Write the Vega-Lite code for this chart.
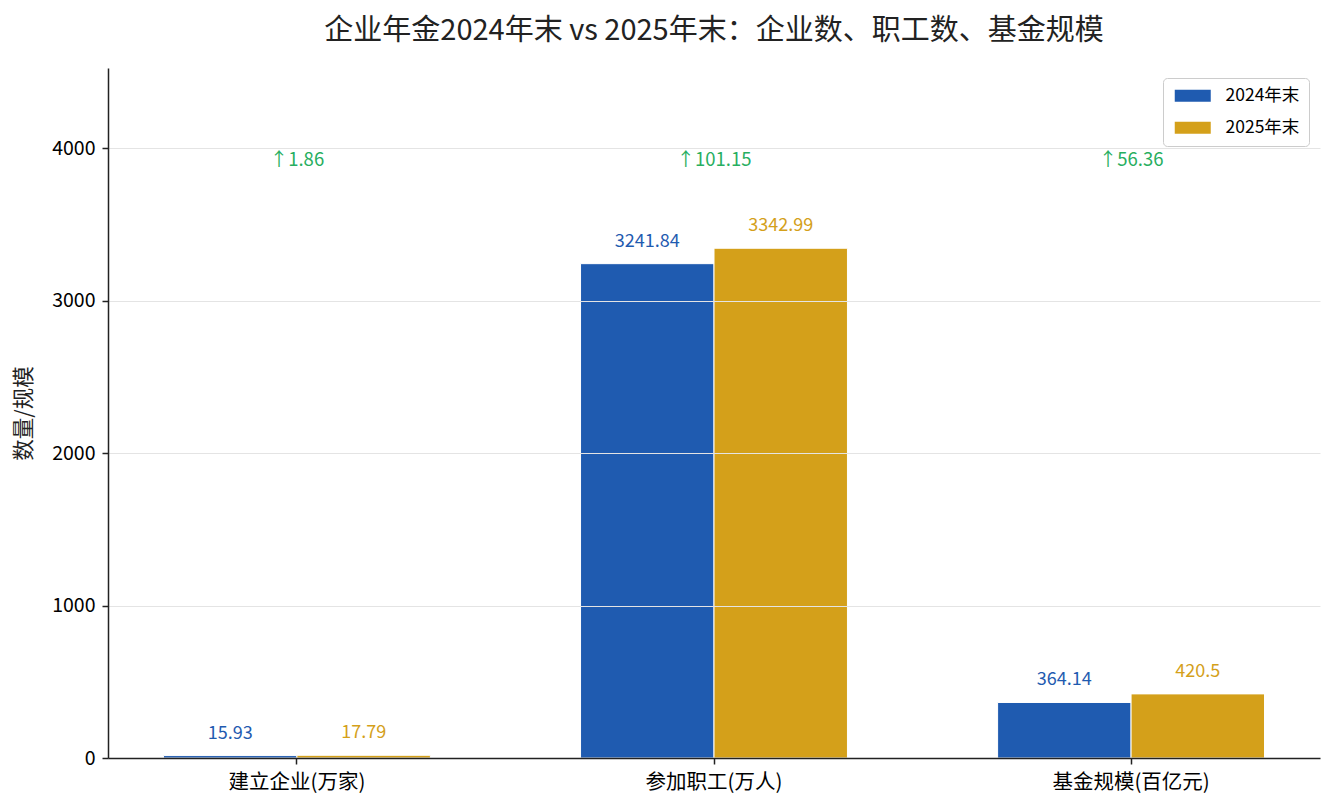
{
  "$schema": "https://vega.github.io/schema/vega-lite/v6.json",
  "autosize": "none",
  "width": 1212,
  "height": 690,
  "padding": {"left": 108, "top": 68, "right": 14, "bottom": 52},
  "background": "white",
  "title": {
    "text": "企业年金2024年末 vs 2025年末：企业数、职工数、基金规模",
    "fontSize": 29,
    "fontWeight": "normal",
    "font": "Noto Sans CJK SC",
    "color": "#222222",
    "anchor": "middle",
    "offset": 22
  },
  "datasets": {
    "bars": [
      {"category": "建立企业(万家)", "series": "2024年末", "value": 15.93},
      {"category": "建立企业(万家)", "series": "2025年末", "value": 17.79},
      {"category": "参加职工(万人)", "series": "2024年末", "value": 3241.84},
      {"category": "参加职工(万人)", "series": "2025年末", "value": 3342.99},
      {"category": "基金规模(百亿元)", "series": "2024年末", "value": 364.14},
      {"category": "基金规模(百亿元)", "series": "2025年末", "value": 420.5}
    ],
    "deltas": [
      {"category": "建立企业(万家)", "label": "↑1.86"},
      {"category": "参加职工(万人)", "label": "↑101.15"},
      {"category": "基金规模(百亿元)", "label": "↑56.36"}
    ]
  },
  "config": {
    "font": "Noto Sans CJK SC",
    "view": {"stroke": null},
    "axis": {
      "labelFont": "Noto Sans CJK SC",
      "titleFont": "Noto Sans CJK SC",
      "labelColor": "#000000",
      "domainColor": "#222222",
      "tickColor": "#222222",
      "domainWidth": 1.5,
      "tickWidth": 1.5,
      "tickSize": 6
    }
  },
  "encoding": {
    "x": {
      "field": "category",
      "type": "nominal",
      "sort": null,
      "scale": {"paddingInner": 0.36, "paddingOuter": 0.133},
      "axis": {"title": null, "labelAngle": 0, "labelFontSize": 20.5, "labelPadding": 8, "zindex": 2}
    }
  },
  "layer": [
    {
      "data": {"name": "bars"},
      "mark": {"type": "bar", "stroke": "white", "strokeWidth": 1},
      "encoding": {
        "xOffset": {"field": "series", "type": "nominal", "scale": {"paddingInner": 0, "paddingOuter": 0}},
        "y": {
          "field": "value",
          "type": "quantitative",
          "scale": {"domain": [0, 4525], "nice": false},
          "axis": {
            "title": "数量/规模",
            "titleFontSize": 21.5,
            "titleFontWeight": "normal",
            "titleColor": "#222222",
            "titlePadding": 16,
            "labelFontSize": 19.5,
            "labelPadding": 7,
            "format": "d",
            "values": [0, 1000, 2000, 3000, 4000],
            "grid": true,
            "gridColor": "#e4e4e4",
            "gridWidth": 1,
            "zindex": 1
          }
        },
        "color": {
          "field": "series",
          "type": "nominal",
          "scale": {"domain": ["2024年末", "2025年末"], "range": ["#1f5bb0", "#d4a01a"]},
          "legend": {
            "title": null,
            "orient": "none",
            "legendX": 1055,
            "legendY": 10,
            "labelFontSize": 17.5,
            "labelColor": "#000000",
            "labelOffset": 24,
            "symbolType": "M-3,-1H3V1H-3Z",
            "symbolSize": 144,
            "symbolOffset": 12,
            "symbolStrokeWidth": 0,
            "rowPadding": 13,
            "padding": 9,
            "strokeColor": "#cccccc",
            "fillColor": "white",
            "cornerRadius": 4
          }
        }
      }
    },
    {
      "data": {"name": "bars"},
      "mark": {"type": "text", "dy": -22, "fontSize": 18, "baseline": "middle"},
      "encoding": {
        "xOffset": {"field": "series", "type": "nominal", "scale": {"paddingInner": 0, "paddingOuter": 0}},
        "y": {"field": "value", "type": "quantitative"},
        "text": {"field": "value", "type": "quantitative"},
        "color": {"field": "series", "type": "nominal", "legend": null}
      }
    },
    {
      "data": {"name": "deltas"},
      "mark": {"type": "text", "fontSize": 18.5, "baseline": "middle", "color": "#27ae60"},
      "encoding": {
        "y": {"datum": 3920},
        "text": {"field": "label", "type": "nominal"}
      }
    }
  ]
}
